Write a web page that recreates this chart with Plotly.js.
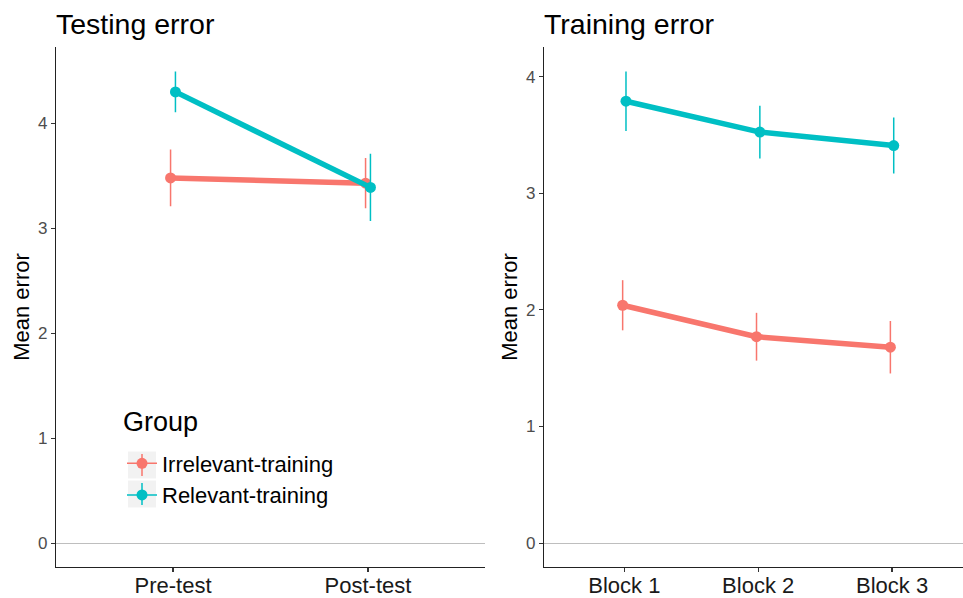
<!DOCTYPE html>
<html>
<head>
<meta charset="utf-8">
<script src="https://cdn.plot.ly/plotly-3.0.1.min.js"></script>
<style>html,body{margin:0;padding:0;background:#fff;}#chart{width:963px;height:598px;}</style>
</head>
<body>
<div id="chart"></div>
<script>
// ---- data ----
const groups = ["Irrelevant-training", "Relevant-training"];
const legendTitle = "Group";
const testLabels = ["Pre-test", "Post-test"];
const testIrrelevant = [3.48, 3.43];
const testIrrelevantErr = [0.27, 0.24];
const testRelevant = [4.30, 3.39];
const testRelevantErr = [0.195, 0.32];

const blockLabels = ["Block 1", "Block 2", "Block 3"];
const trainIrrelevant = [2.04, 1.77, 1.68];
const trainIrrelevantErr = [0.215, 0.205, 0.225];
const trainRelevant = [3.79, 3.525, 3.41];
const trainRelevantErr = [0.255, 0.227, 0.24];

// ---- styles ----
const colors = ["#F8766D", "#00BFC4"];
const dodge = 0.0125;
const FONT = "Liberation Sans, Arial, Helvetica, sans-serif";

function pos(n, sign) { return Array.from({length: n}, (_, i) => i + 1 + sign * dodge); }

function trace(labels, vals, errs, gi, xa, ya) {
  return {
    type: "scatter", mode: "lines+markers",
    x: pos(labels.length, gi === 0 ? -1 : 1), y: vals,
    xaxis: xa, yaxis: ya,
    name: groups[gi], showlegend: false,
    line: {color: colors[gi], width: 5.5},
    marker: {color: colors[gi], size: 11},
    error_y: {type: "data", array: errs, visible: true, color: colors[gi], thickness: 1.5, width: 0}
  };
}
// legend-only entries (no visible data) so the key shows a thin line like the reference
function legendEntry(gi) {
  return {
    type: "scatter", mode: "lines+markers", x: [null], y: [null], xaxis: "x", yaxis: "y",
    name: groups[gi], showlegend: true,
    line: {color: colors[gi], width: 1.5},
    marker: {color: colors[gi], size: 11}
  };
}

const data = [
  trace(testLabels, testIrrelevant, testIrrelevantErr, 0, "x", "y"),
  trace(testLabels, testRelevant, testRelevantErr, 1, "x", "y"),
  trace(blockLabels, trainIrrelevant, trainIrrelevantErr, 0, "x2", "y2"),
  trace(blockLabels, trainRelevant, trainRelevantErr, 1, "x2", "y2"),
  legendEntry(0), legendEntry(1)
];

const W = 963, H = 598;
const px = v => v / W, py = v => 1 - v / H;

const axisCommon = {
  showline: true, linecolor: "#222", linewidth: 1.1,
  ticks: "outside", ticklen: 4, tickcolor: "#333", tickwidth: 1.1,
  showgrid: false, zeroline: false, fixedrange: true
};

// legend key geometry (paper px)
const legL = 122, keyCx = 142, keyRows = [465, 494], keySize = 28;
const keyShapes = [];
keyRows.forEach((cy, gi) => {
  keyShapes.push({type: "rect", xref: "paper", yref: "paper", layer: "below",
    x0: px(keyCx - keySize / 2), x1: px(keyCx + keySize / 2),
    y0: py(cy + keySize / 2 - 0.5), y1: py(cy - keySize / 2 + 0.5),
    fillcolor: "#F2F2F2", line: {width: 0}});
  keyShapes.push({type: "line", xref: "paper", yref: "paper", layer: "below",
    x0: px(keyCx), x1: px(keyCx), y0: py(cy + 11), y1: py(cy - 11),
    line: {color: colors[gi], width: 1.5}});
});

const layout = {
  width: W, height: H,
  margin: {l: 0, r: 0, t: 0, b: 0},
  paper_bgcolor: "#fff", plot_bgcolor: "rgba(0,0,0,0)",
  font: {family: FONT, color: "#000"},
  xaxis: Object.assign({}, axisCommon, {
    domain: [px(56), px(485)], range: [0.4, 2.6], anchor: "y",
    tickvals: [1, 2], ticktext: testLabels, ticklabelstandoff: -5,
    tickfont: {size: 22, color: "#1a1a1a", family: FONT}
  }),
  yaxis: Object.assign({}, axisCommon, {
    domain: [1 - 566.7 / H, 1 - 47.3 / H], range: [-0.225, 4.725], anchor: "x",
    tickvals: [0, 1, 2, 3, 4],
    zeroline: true, zerolinecolor: "#BEBEBE", zerolinewidth: 1,
    tickfont: {size: 17, color: "#4d4d4d", family: FONT},
    title: {text: "Mean error", font: {size: 22, color: "#000", family: FONT}, standoff: 2}
  }),
  xaxis2: Object.assign({}, axisCommon, {
    domain: [px(544), 1], range: [0.4, 3.53], anchor: "y2",
    tickvals: [1, 2, 3], ticktext: blockLabels, ticklabelstandoff: -5,
    tickfont: {size: 22, color: "#1a1a1a", family: FONT}
  }),
  yaxis2: Object.assign({}, axisCommon, {
    domain: [1 - 566.7 / H, 1 - 47.3 / H], range: [-0.2025, 4.2525], anchor: "x2",
    tickvals: [0, 1, 2, 3, 4],
    zeroline: true, zerolinecolor: "#BEBEBE", zerolinewidth: 1,
    tickfont: {size: 17, color: "#4d4d4d", family: FONT},
    title: {text: "Mean error", font: {size: 22, color: "#000", family: FONT}, standoff: 2}
  }),
  showlegend: true,
  legend: {
    x: px(legL), y: py((keyRows[0] + keyRows[1]) / 2), xanchor: "left", yanchor: "middle",
    bgcolor: "rgba(0,0,0,0)", borderwidth: 0,
    font: {size: 22, color: "#000", family: FONT},
    itemwidth: 30, tracegroupgap: 0
  },
  shapes: keyShapes,
  annotations: [
    {text: "Testing error", xref: "paper", yref: "paper", x: px(54), y: py(24),
     xanchor: "left", yanchor: "middle", showarrow: false, font: {size: 28.5, color: "#000", family: FONT}},
    {text: "Training error", xref: "paper", yref: "paper", x: px(542), y: py(24),
     xanchor: "left", yanchor: "middle", showarrow: false, font: {size: 28.5, color: "#000", family: FONT}},
    {text: legendTitle, xref: "paper", yref: "paper", x: px(121), y: py(422),
     xanchor: "left", yanchor: "middle", showarrow: false, font: {size: 27, color: "#000", family: FONT}}
  ]
};

Plotly.newPlot("chart", data, layout, {displayModeBar: false, staticPlot: true});
</script>
</body>
</html>
